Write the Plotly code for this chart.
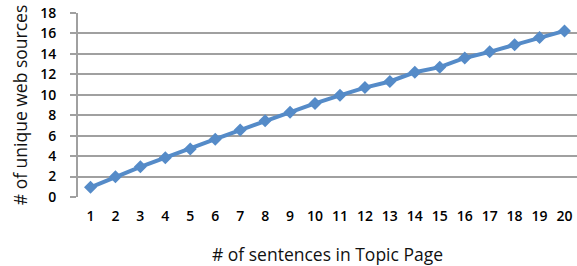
import plotly.graph_objects as go

sentences = list(range(1, 21))
unique_sources = [0.95, 1.97, 2.95, 3.85, 4.7, 5.65, 6.55, 7.45, 8.28, 9.15,
                  9.95, 10.7, 11.3, 12.2, 12.7, 13.6, 14.2, 14.9, 15.6, 16.25]
y_ticks = list(range(0, 19, 2))

fig = go.Figure(go.Scatter(
    x=sentences, y=unique_sources, mode="lines+markers",
    line=dict(color="#558BC8", width=4),
    marker=dict(symbol="diamond", size=10, color="#558BC8"),
))

font = "Open Sans, Liberation Sans, sans-serif"
fig.update_layout(
    width=577, height=266,
    margin=dict(l=78, r=0, t=13, b=69),
    paper_bgcolor="white", plot_bgcolor="white",
    showlegend=False,
    font=dict(family=font, color="#111"),
    xaxis=dict(
        range=[0.5, 20.5], tickmode="array", tickvals=sentences,
        ticktext=[str(s) for s in sentences],
        showgrid=False, zeroline=False, showline=False, ticks="",
        ticklabelstandoff=9, automargin=False,
        tickfont=dict(size=14, color="#000", weight=600),
        title=dict(text="# of sentences in Topic Page", font=dict(size=17.5, color="#111"), standoff=25),
    ),
    yaxis=dict(
        range=[0, 18], tickmode="array", tickvals=y_ticks,
        showgrid=True, gridcolor="#A0A0A0", gridwidth=2,
        zeroline=False, showline=True, linecolor="#A0A0A0", linewidth=2,
        ticks="outside", ticklen=6, tickcolor="#A0A0A0", tickwidth=2,
        ticklabelstandoff=11, automargin=False,
        tickfont=dict(size=14, color="#000", weight=600),
        title=dict(text="# of unique web sources", font=dict(size=17.5, color="#111"), standoff=8),
    ),
)
fig.write_html("out.html", config={"displayModeBar": False},
               post_script="document.body.style.margin='0';document.body.style.overflow='hidden';")
